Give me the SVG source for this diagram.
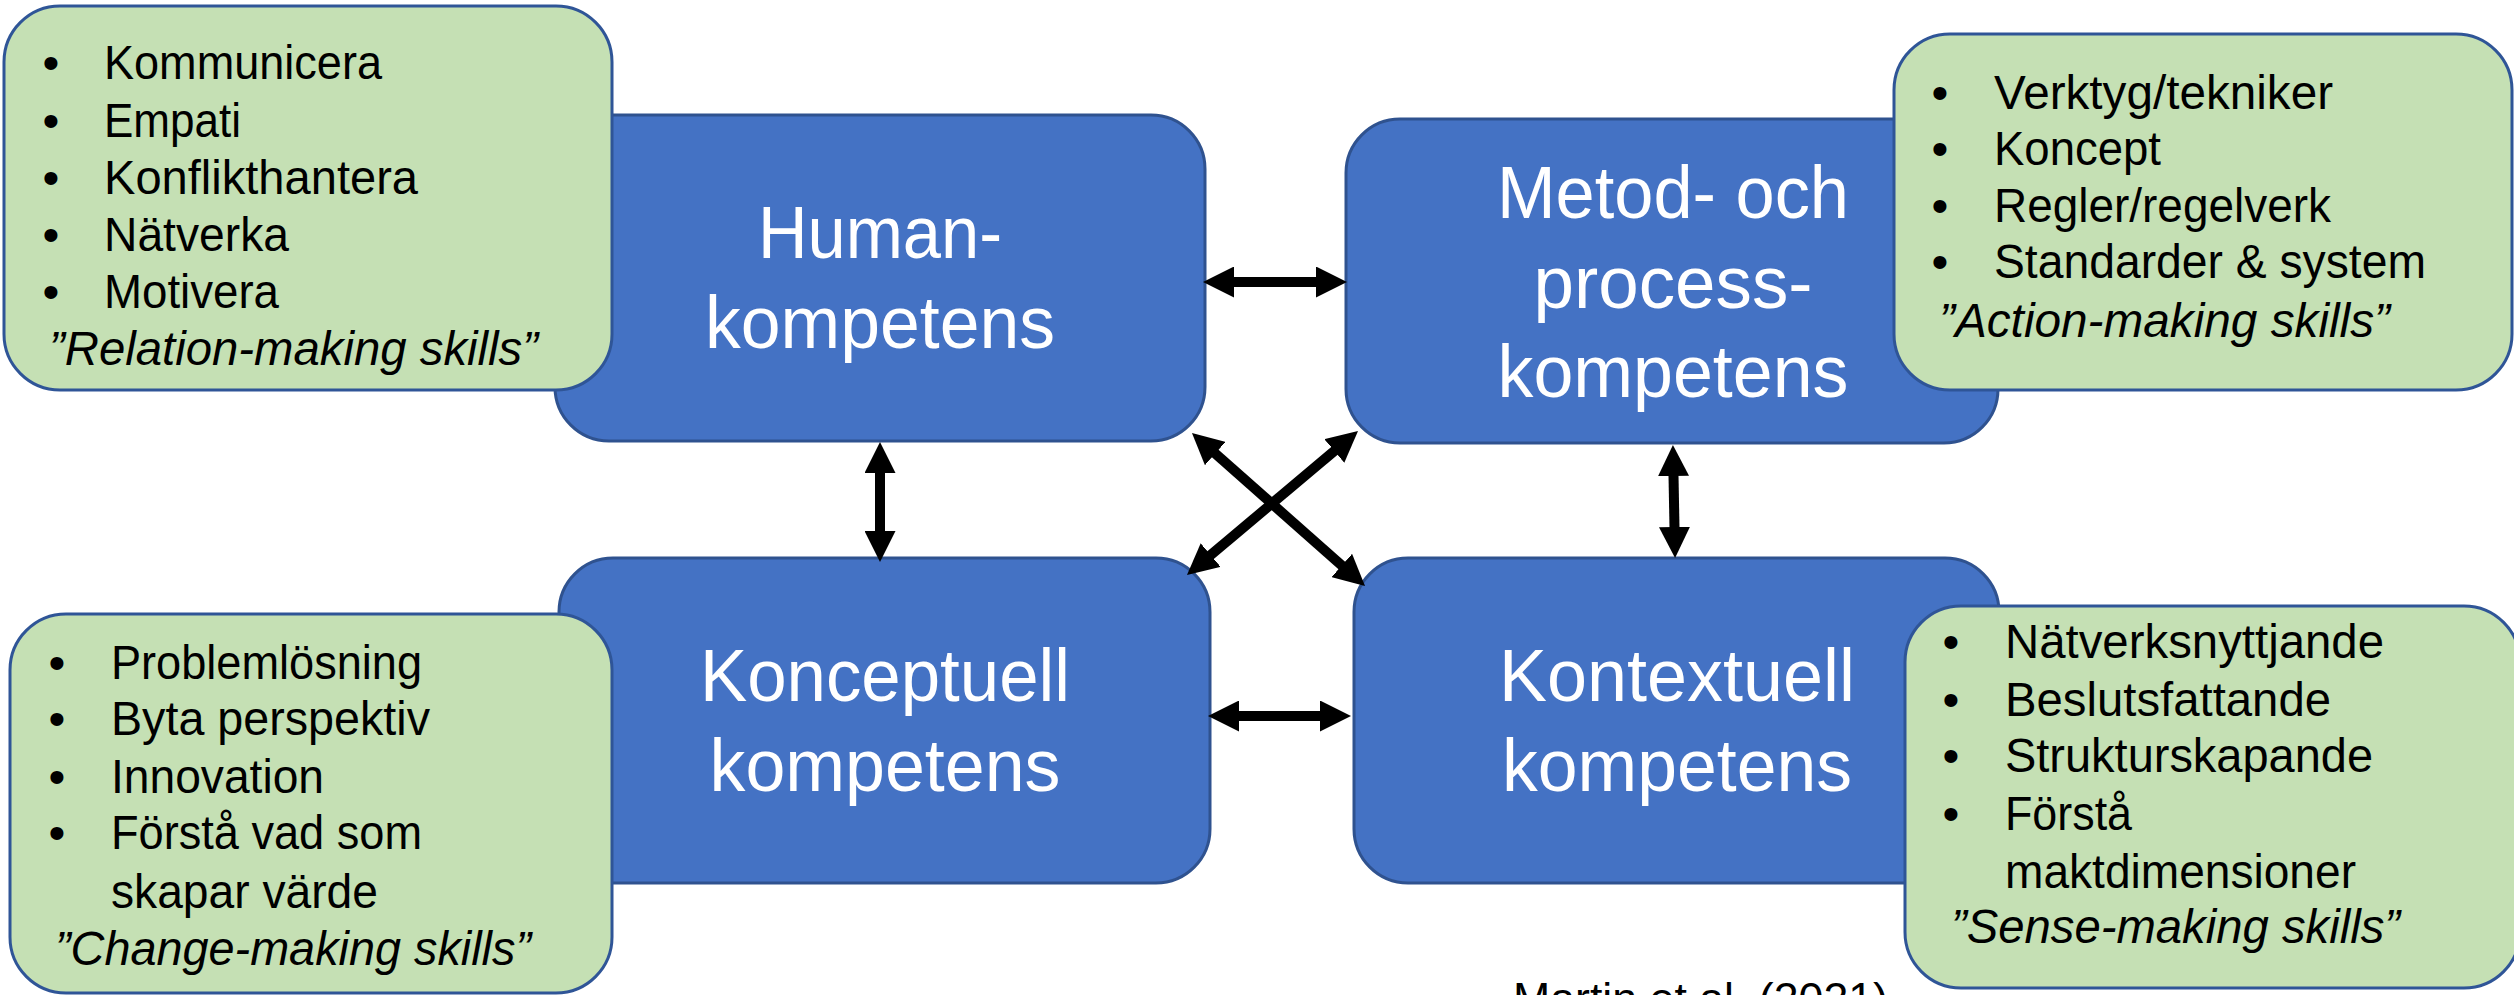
<svg xmlns="http://www.w3.org/2000/svg" width="2514" height="995" viewBox="0 0 2514 995">
  <style>
    .core { fill: #4472C4; stroke: #2F528F; stroke-width: 3; }
    .skills { fill: #C5E0B4; stroke: #2F5597; stroke-width: 3; }
    .core-label { font-family: "Liberation Sans", Arial, sans-serif; font-size: 75px; fill: #FFFFFF; text-anchor: middle; }
    .item { font-family: "Liberation Sans", Arial, sans-serif; font-size: 48px; fill: #000000; }
    .bullet { font-family: "Liberation Sans", Arial, sans-serif; font-size: 48px; fill: #000000; text-anchor: middle; }
    .tag { font-family: "Liberation Sans", Arial, sans-serif; font-size: 48px; font-style: italic; fill: #000000; }
    .cite { font-family: "Liberation Sans", Arial, sans-serif; font-size: 44px; fill: #000000; }
    .link { fill: none; stroke: #000000; stroke-width: 10; marker-start: url(#head); marker-end: url(#head); }
  </style>
  <defs>
    <marker id="head" markerUnits="userSpaceOnUse" markerWidth="31" markerHeight="31" refX="6" refY="15.5" orient="auto-start-reverse" viewBox="0 0 31 31">
      <path d="M0,0 L31,15.5 L0,31 Z" fill="#000000"/>
    </marker>
  </defs>

  <!-- competence blocks -->
  <g id="human">
    <rect class="core" x="555" y="115" width="650" height="326" rx="54" ry="54"/>
    <text class="core-label" x="880" y="258" textLength="244" lengthAdjust="spacingAndGlyphs">Human-</text>
    <text class="core-label" x="880" y="348" textLength="350" lengthAdjust="spacingAndGlyphs">kompetens</text>
  </g>
  <g id="metod">
    <rect class="core" x="1346" y="119" width="652" height="324" rx="54" ry="54"/>
    <text class="core-label" x="1673" y="218" textLength="352" lengthAdjust="spacingAndGlyphs">Metod- och</text>
    <text class="core-label" x="1673" y="308" textLength="279" lengthAdjust="spacingAndGlyphs">process-</text>
    <text class="core-label" x="1673" y="397" textLength="351" lengthAdjust="spacingAndGlyphs">kompetens</text>
  </g>
  <g id="konceptuell">
    <rect class="core" x="559" y="558" width="651" height="325" rx="54" ry="54"/>
    <text class="core-label" x="885" y="701" textLength="370" lengthAdjust="spacingAndGlyphs">Konceptuell</text>
    <text class="core-label" x="885" y="791" textLength="351" lengthAdjust="spacingAndGlyphs">kompetens</text>
  </g>
  <g id="kontextuell">
    <rect class="core" x="1354" y="558" width="645" height="325" rx="54" ry="54"/>
    <text class="core-label" x="1677" y="701" textLength="356" lengthAdjust="spacingAndGlyphs">Kontextuell</text>
    <text class="core-label" x="1677" y="791" textLength="350" lengthAdjust="spacingAndGlyphs">kompetens</text>
  </g>

  <!-- two-way links between the blocks -->
  <g id="connectors">
    <line class="link" x1="1228" y1="282" x2="1322" y2="282"/>
    <line class="link" x1="880" y1="467" x2="880" y2="537"/>
    <line class="link" x1="1673.4" y1="470" x2="1674.6" y2="533"/>
    <line class="link" x1="1233" y1="716" x2="1326" y2="716"/>
    <line class="link" x1="1210.7" y1="449.6" x2="1346.3" y2="569.4"/>
    <line class="link" x1="1338.9" y1="447.1" x2="1206.1" y2="558.9"/>
  </g>

  <!-- skill lists -->
  <g id="relation-skills">
    <rect class="skills" x="4" y="6" width="608" height="384" rx="56" ry="56"/>
    <text class="bullet" x="51" y="79">•</text>
    <text class="bullet" x="51" y="136.5">•</text>
    <text class="bullet" x="51" y="193.5">•</text>
    <text class="bullet" x="51" y="250.5">•</text>
    <text class="bullet" x="51" y="308">•</text>
    <text class="item" x="104" y="79" textLength="278" lengthAdjust="spacingAndGlyphs">Kommunicera</text>
    <text class="item" x="104" y="136.5" textLength="137" lengthAdjust="spacingAndGlyphs">Empati</text>
    <text class="item" x="104" y="193.5" textLength="314" lengthAdjust="spacingAndGlyphs">Konflikthantera</text>
    <text class="item" x="104" y="250.5" textLength="185" lengthAdjust="spacingAndGlyphs">Nätverka</text>
    <text class="item" x="104" y="308" textLength="175" lengthAdjust="spacingAndGlyphs">Motivera</text>
    <text class="tag" x="49" y="365" textLength="489" lengthAdjust="spacingAndGlyphs">”Relation-making skills”</text>
  </g>
  <g id="action-skills">
    <rect class="skills" x="1894" y="34" width="618" height="356" rx="56" ry="56"/>
    <text class="bullet" x="1940" y="109">•</text>
    <text class="bullet" x="1940" y="165">•</text>
    <text class="bullet" x="1940" y="222">•</text>
    <text class="bullet" x="1940" y="278">•</text>
    <text class="item" x="1994" y="109" textLength="339" lengthAdjust="spacingAndGlyphs">Verktyg/tekniker</text>
    <text class="item" x="1994" y="165" textLength="167" lengthAdjust="spacingAndGlyphs">Koncept</text>
    <text class="item" x="1994" y="222" textLength="337" lengthAdjust="spacingAndGlyphs">Regler/regelverk</text>
    <text class="item" x="1994" y="278" textLength="432" lengthAdjust="spacingAndGlyphs">Standarder &amp; system</text>
    <text class="tag" x="1939" y="337" textLength="451" lengthAdjust="spacingAndGlyphs">”Action-making skills”</text>
  </g>
  <g id="change-skills">
    <rect class="skills" x="10" y="614" width="602" height="379" rx="56" ry="56"/>
    <text class="bullet" x="57" y="679">•</text>
    <text class="bullet" x="57" y="735">•</text>
    <text class="bullet" x="57" y="793">•</text>
    <text class="bullet" x="57" y="849">•</text>
    <text class="item" x="111" y="679" textLength="311" lengthAdjust="spacingAndGlyphs">Problemlösning</text>
    <text class="item" x="111" y="735" textLength="319" lengthAdjust="spacingAndGlyphs">Byta perspektiv</text>
    <text class="item" x="111" y="793" textLength="213" lengthAdjust="spacingAndGlyphs">Innovation</text>
    <text class="item" x="111" y="849" textLength="311" lengthAdjust="spacingAndGlyphs">Förstå vad som</text>
    <text class="item" x="111" y="908" textLength="267" lengthAdjust="spacingAndGlyphs">skapar värde</text>
    <text class="tag" x="55" y="965" textLength="476" lengthAdjust="spacingAndGlyphs">”Change-making skills”</text>
  </g>
  <g id="sense-skills">
    <rect class="skills" x="1905" y="606" width="615" height="382" rx="56" ry="56"/>
    <text class="bullet" x="1951" y="658">•</text>
    <text class="bullet" x="1951" y="716">•</text>
    <text class="bullet" x="1951" y="772">•</text>
    <text class="bullet" x="1951" y="830">•</text>
    <text class="item" x="2005" y="658" textLength="379" lengthAdjust="spacingAndGlyphs">Nätverksnyttjande</text>
    <text class="item" x="2005" y="716" textLength="326" lengthAdjust="spacingAndGlyphs">Beslutsfattande</text>
    <text class="item" x="2005" y="772" textLength="368" lengthAdjust="spacingAndGlyphs">Strukturskapande</text>
    <text class="item" x="2005" y="830" textLength="127" lengthAdjust="spacingAndGlyphs">Förstå</text>
    <text class="item" x="2005" y="888" textLength="351" lengthAdjust="spacingAndGlyphs">maktdimensioner</text>
    <text class="tag" x="1951" y="943" textLength="449" lengthAdjust="spacingAndGlyphs">”Sense-making skills”</text>
  </g>

  <!-- source reference -->
  <text class="cite" x="1513" y="1014" textLength="375" lengthAdjust="spacingAndGlyphs">Martin et al. (2021)</text>
</svg>
